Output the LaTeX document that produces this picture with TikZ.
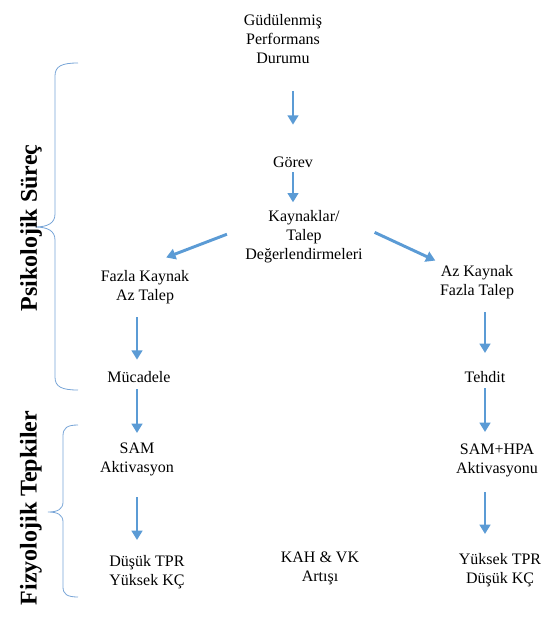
\documentclass[tikz,border=0pt]{standalone}
\usepackage{fontspec}
\setmainfont{Liberation Serif}
\usetikzlibrary{arrows.meta}
\definecolor{arrowblue}{RGB}{91,155,213}
\definecolor{braceblue}{RGB}{120,165,215}
\begin{document}
\begin{tikzpicture}[
    x=0.75pt, y=-0.75pt,
    every node/.style={align=center, font=\rmfamily\fontsize{12}{14.2}\selectfont},
    side label/.style={rotate=90, font=\rmfamily\bfseries\fontsize{18}{20}\selectfont},
    flow/.style={draw=arrowblue, line width=2.2pt, -{Triangle[width=8pt,length=7pt]}},
    brace line/.style={draw=braceblue, line width=0.6pt},
    ]
\useasboundingbox (0,0) rectangle (543,635);
\node (gud) at (283,39) {Güdülenmiş\\Performans\\Durumu};
\node (gorev) at (293,162) {Görev};
\node (kayn) at (304,237) {Kaynaklar/\\Talep\\Değerlendirmeleri};
\node (fazla) at (145,287) {Fazla Kaynak\\Az Talep};
\node (azk) at (477,282) {Az Kaynak\\Fazla Talep};
\node (muc) at (139,377) {Mücadele};
\node (tehdit) at (485,377) {Tehdit};
\node (sam) at (137,459) {SAM\\Aktivasyon};
\node (samhpa) at (497,460) {SAM+HPA\\Aktivasyonu};
\node (dusuk) at (147,572) {Düşük TPR\\Yüksek KÇ};
\node (kah) at (320,568) {KAH \& VK\\Artışı};
\node (yuksek) at (500,570) {Yüksek TPR\\Düşük KÇ};
\draw[flow, shorten <=39pt, shorten >=28pt] (gorev.center |- gud.center) -- (gorev.center);
\draw[flow, shorten <=7.5pt, shorten >=26pt] (gorev.center) -- (gorev.center |- kayn.center);
\draw[flow, shorten <=11pt, shorten >=17pt] ([yshift=6pt]kayn.west) -- (fazla.north);
\draw[flow, shorten <=6pt] ([yshift=6pt]kayn.east) -- (azk.north west);
\draw[flow, shorten <=22.5pt, shorten >=13pt] (sam.center |- fazla.center) -- (sam.center |- muc.center);
\draw[flow, shorten <=9pt, shorten >=19.5pt] (sam.center |- muc.center) -- (sam.center);
\draw[flow, shorten <=28.5pt, shorten >=24pt] (sam.center) -- (sam.center |- dusuk.center);
\draw[flow, shorten <=22.5pt, shorten >=18pt] (tehdit.center |- azk.center) -- (tehdit.center);
\draw[flow, shorten <=8.25pt, shorten >=21pt] (tehdit.center) -- (tehdit.center |- samhpa.center);
\draw[flow, shorten <=24pt, shorten >=27pt] (tehdit.center |- samhpa.center) -- (tehdit.center |- yuksek.center);
% braces on the left
\draw[brace line] (78,63) .. controls (62,63) and (55,66) .. (55,76) -- (55,214)
    .. controls (55,223) and (48,227) .. (35,227) .. controls (48,227) and (55,231) .. (55,240)
    -- (55,377) .. controls (55,387) and (62,390) .. (78,390);
\draw[brace line] (78,425) .. controls (67,425) and (63,428) .. (63,436) -- (63,502)
    .. controls (63,509) and (58,512) .. (48,512) .. controls (58,512) and (63,515) .. (63,522)
    -- (63,587) .. controls (63,594) and (67,597) .. (78,597);
\node[side label] (psiko) at (31,228) {Psikolojik Süreç};
\node[side label] (fizyo) at (31,508) {Fizyolojik Tepkiler};
\end{tikzpicture}
\end{document}
